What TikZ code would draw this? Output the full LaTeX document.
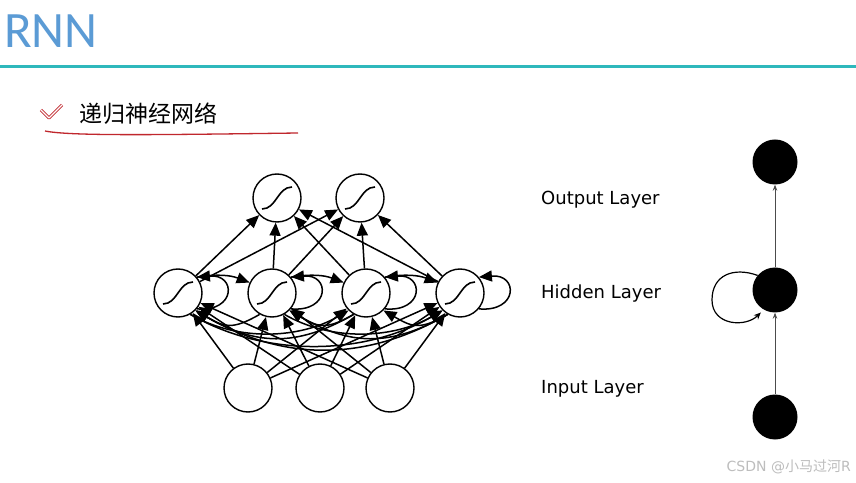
\documentclass[tikz,border=0pt]{standalone}
\usepackage{fontspec}
\setmainfont{DejaVu Sans}
\newfontfamily\cjkfont{Noto Sans CJK SC}
\newfontfamily\titlefont{Carlito}
\usetikzlibrary{positioning, arrows.meta, calc}
\definecolor{titleBlue}{HTML}{5B9BD5}
\definecolor{ruleTeal} {HTML}{2FB8BC}
\definecolor{markRed}  {HTML}{C0272D}
\definecolor{cMark}    {HTML}{BDBDBD}

\begin{document}
\begin{tikzpicture}[x=1pt, y=1pt,
    unit/.style={circle, draw, line width=1.4pt, minimum size=48pt, inner sep=0pt, fill=white},
    sigunit/.style={unit, path picture={
        \draw[line width=1.6pt] ([shift={(-15pt,-11pt)}]path picture bounding box.center)
          to[out=0, in=180] ([shift={(15pt,11pt)}]path picture bounding box.center);}},
    blob/.style={circle, fill=black, minimum size=45pt, inner sep=0pt},
    wire/.style={-{Triangle[length=13pt, width=11pt]}, line width=1.5pt},
    thinwire/.style={-{Stealth[length=6pt, width=4.5pt]}, line width=0.8pt, draw=black!70},
    layer/.style={font=\fontsize{18}{20}\selectfont, anchor=base west, inner sep=0pt},
  ]
  \fill[white] (0,0) rectangle (856,482);
  \useasboundingbox (0,0) rectangle (856,482);

  % heading
  \node[font=\titlefont\fontsize{51}{51}\selectfont, text=titleBlue,
        anchor=base west, inner sep=0pt] (title) at (4,434) {RNN};
  \draw[ruleTeal, line width=3pt] (0,415) -- (856,415);
  \draw[markRed, line width=0.8pt, double=white, double distance=1.3pt,
        line join=round] (41,372) -- (49,364) -- (62,377);
  \node[font=\cjkfont\fontsize{23}{23}\selectfont, anchor=west, inner sep=0pt]
        (topic) at (79,368) {递归神经网络};
  \draw[markRed, line width=1.3pt] (45,351) .. controls (70,346) and (150,347) .. (298,349);

  % network with units
  \node[sigunit] (o1) at (277,284) {};
  \node[sigunit] (o2) at (360,284) {};
  \node[sigunit] (h1) at (178,189) {};
  \node[sigunit] (h2) at (272,189) {};
  \node[sigunit] (h3) at (366,189) {};
  \node[sigunit] (h4) at (460,189) {};
  \node[unit] (i1) at (248,94) {};
  \node[unit] (i2) at (320,94) {};
  \node[unit] (i3) at (390,94) {};

  \foreach \a in {1,2,3} \foreach \b in {1,...,4} \draw[wire] (i\a) -- (h\b);
  \foreach \a in {1,...,4} \foreach \b in {1,2} \draw[wire] (h\a) -- (o\b);
  \foreach \a in {1,...,4}
    \draw[wire] (h\a.-40) to[out=-5, in=5, looseness=3.2] (h\a.40);
  \foreach \a/\b in {1/2,2/3,3/4}
    \draw[wire] (h\a.40) to[bend left=15] (h\b.155);
  \foreach \a/\b/\l in {2/1/1.3,3/1/1.1,4/1/1,3/2/1.3,4/2/1.1,4/3/1.3}
    \draw[wire] (h\a.-120) to[out=-150, in=-30, looseness=\l] (h\b.-45);
  \foreach \a/\b/\l in {1/3/0.9,1/4/0.9,2/4/0.9}
    \draw[wire] (h\a.-60) to[out=-30, in=-150, looseness=\l] (h\b.-135);

  \node[layer] (outL) at (541,277) {Output Layer};
  \node[layer] (hidL) at (541,183) {Hidden Layer};
  \node[layer] (inL)  at (541,89)  {Input Layer};

  % compact view
  \node[blob] (ro) at (775,320) {};
  \node[blob] (rh) at (775,192) {};
  \node[blob] (ri) at (775,65)  {};
  \coordinate (loopL) at (712,182);
  \draw[thinwire] (ri) -- (rh);
  \draw[thinwire] (rh) -- (ro);
  \draw[-{Stealth[length=7pt, width=6pt]}, line width=1.2pt, shorten >=4pt]
    (rh.140) to[out=160, in=90, looseness=1.25] (loopL)
    to[out=-90, in=-135, looseness=1.25] (rh.-120);

  \node[font=\fontsize{14}{14}\selectfont, text=cMark, anchor=east, inner sep=0pt]
        (credit) at (851,15) {CSDN @{\cjkfont 小马过河}R};
\end{tikzpicture}
\end{document}
